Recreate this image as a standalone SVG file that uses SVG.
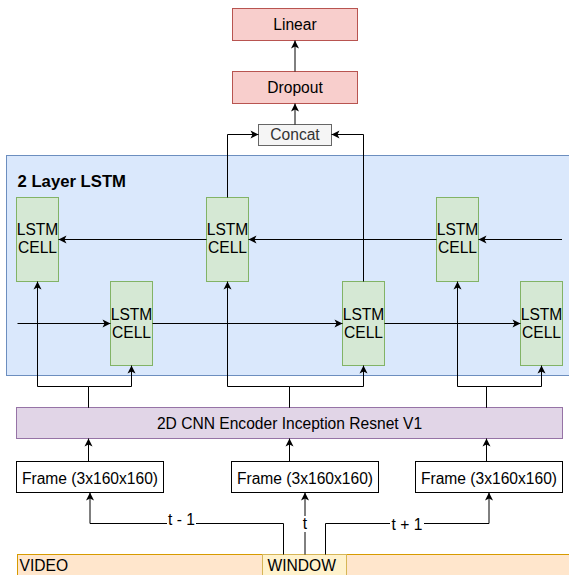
<svg xmlns="http://www.w3.org/2000/svg" width="569" height="575" viewBox="0 0 569 575">
<defs>
<style>
text{font-family:"Liberation Sans",Arial,Helvetica,sans-serif;font-size:15.6px;fill:#000}
.c{text-anchor:middle}
.red{fill:#f8cecc;stroke:#b85450;stroke-width:1}
.grey{fill:#f5f5f5;stroke:#666666;stroke-width:1}
.cell{fill:#d5e8d4;stroke:#82b366;stroke-width:1}
.enc{fill:#e1d5e7;stroke:#9673a6;stroke-width:1}
.frame{fill:#ffffff;stroke:#000000;stroke-width:1}
.edge{fill:none;stroke:#000;stroke-width:1}
.arr{marker-end:url(#ah)}
.lbl{fill:#ffffff;stroke:none}
</style>
<marker id="ah" viewBox="-9 -5 10 10" refX="0" refY="0" markerWidth="10" markerHeight="10" markerUnits="userSpaceOnUse" orient="auto">
<path d="M0,0 L-8,-4 L-6,0 L-8,4 Z" fill="#000"/>
</marker>
</defs>
<rect width="569" height="575" fill="#ffffff"/>

<g id="lstm-container">
<rect x="6.5" y="155.5" width="575" height="220" fill="#dae8fc" stroke="#6c8ebf"/>
<text x="17.5" y="187" style="font-weight:bold;font-size:16.7px">2 Layer LSTM</text>
</g>

<g id="linear"><rect class="red" x="232.5" y="8.5" width="125" height="32"/><text class="c" x="295" y="30">Linear</text></g>
<g id="dropout"><rect class="red" x="232.5" y="71.5" width="125" height="32"/><text class="c" x="295" y="93">Dropout</text></g>
<g id="concat"><rect class="grey" x="258.5" y="124.5" width="73" height="21"/><text class="c" x="295" y="140" style="fill:#333333">Concat</text></g>

<g id="cell-top-1"><rect class="cell" x="16.5" y="197.5" width="42" height="84"/><text class="c" x="37.5" y="235.3">LSTM</text><text class="c" x="37.5" y="253.3">CELL</text></g>
<g id="cell-top-2"><rect class="cell" x="206.5" y="197.5" width="42" height="84"/><text class="c" x="227.5" y="235.3">LSTM</text><text class="c" x="227.5" y="253.3">CELL</text></g>
<g id="cell-top-3"><rect class="cell" x="436.5" y="197.5" width="42" height="84"/><text class="c" x="457.5" y="235.3">LSTM</text><text class="c" x="457.5" y="253.3">CELL</text></g>
<g id="cell-bot-1"><rect class="cell" x="110.5" y="281.5" width="42" height="84"/><text class="c" x="131.5" y="319.5">LSTM</text><text class="c" x="131.5" y="337.5">CELL</text></g>
<g id="cell-bot-2"><rect class="cell" x="342.5" y="281.5" width="42" height="84"/><text class="c" x="363.5" y="319.5">LSTM</text><text class="c" x="363.5" y="337.5">CELL</text></g>
<g id="cell-bot-3"><rect class="cell" x="520.5" y="281.5" width="42" height="84"/><text class="c" x="541.5" y="319.5">LSTM</text><text class="c" x="541.5" y="337.5">CELL</text></g>

<g id="encoder"><rect class="enc" x="16.5" y="407.5" width="546" height="31"/><text class="c" x="289.5" y="428.5">2D CNN Encoder Inception Resnet V1</text></g>

<g id="frame-1"><rect class="frame" x="16.5" y="461.5" width="147" height="31"/><text class="c" x="90" y="483.5">Frame (3x160x160)</text></g>
<g id="frame-2"><rect class="frame" x="231.5" y="461.5" width="147" height="31"/><text class="c" x="305" y="483.5">Frame (3x160x160)</text></g>
<g id="frame-3"><rect class="frame" x="415.5" y="461.5" width="147" height="31"/><text class="c" x="489" y="483.5">Frame (3x160x160)</text></g>

<g id="video"><rect x="17.5" y="554.5" width="560" height="30" fill="#ffe6cc" stroke="#d79b00"/><text x="19.5" y="570.5">VIDEO</text></g>
<g id="window"><rect x="262.5" y="554.5" width="84" height="30" fill="#fff2cc" stroke="#d6b656"/><text x="267.5" y="570.5">WINDOW</text></g>

<g id="connectors">
<path class="edge arr" d="M295,71.5 V40.5"/>
<path class="edge arr" d="M295,124.5 V103.5"/>
<path class="edge arr" d="M227.5,197.5 V134.5 H258.5"/>
<path class="edge arr" d="M363.5,281.5 V134.5 H331.5"/>

<path class="edge arr" d="M562,239.5 H478.5"/>
<path class="edge arr" d="M436.5,239.5 H248.5"/>
<path class="edge arr" d="M206.5,239.5 H58.5"/>

<path class="edge arr" d="M17.5,323.5 H110.5"/>
<path class="edge arr" d="M152.5,323.5 H342.5"/>
<path class="edge arr" d="M384.5,323.5 H520.5"/>

<path class="edge arr" d="M88.5,407.5 V386.5 H37.5 V281.5"/>
<path class="edge arr" d="M88.5,407.5 V386.5 H131.5 V365.5"/>
<path class="edge arr" d="M289.5,407.5 V386.5 H227.5 V281.5"/>
<path class="edge arr" d="M289.5,407.5 V386.5 H363.5 V365.5"/>
<path class="edge arr" d="M486.5,407.5 V386.5 H457.5 V281.5"/>
<path class="edge arr" d="M486.5,407.5 V386.5 H541.5 V365.5"/>

<path class="edge arr" d="M88.5,461.5 V438.5"/>
<path class="edge arr" d="M289.5,461.5 V438.5"/>
<path class="edge arr" d="M486.5,461.5 V438.5"/>

<path class="edge arr" d="M283.5,554.5 V523.5 H90 V492.5"/>
<path class="edge arr" d="M305,554.5 V492.5"/>
<path class="edge arr" d="M325.5,554.5 V523.5 H489 V492.5"/>

<rect class="lbl" x="167" y="511" width="29" height="16"/>
<text class="c" x="181.5" y="524.5">t - 1</text>
<rect class="lbl" x="300" y="516" width="10" height="16"/>
<text class="c" x="305" y="529">t</text>
<rect class="lbl" x="390" y="516" width="34" height="16"/>
<text class="c" x="407" y="529.5">t + 1</text>
</g>
</svg>
